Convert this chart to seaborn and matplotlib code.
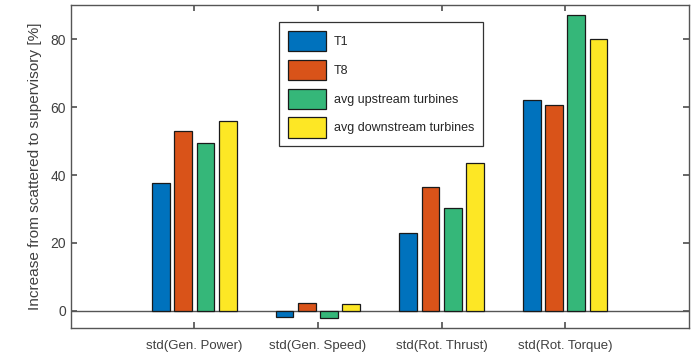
import matplotlib
matplotlib.use("Agg")
import matplotlib.pyplot as plt
import seaborn as sns
import pandas as pd

categories = ["std(Gen. Power)", "std(Gen. Speed)", "std(Rot. Thrust)", "std(Rot. Torque)"]
series = ["T1", "T8", "avg upstream turbines", "avg downstream turbines"]
t1 = [37.5, -1.95, 22.8, 62.1]
t8 = [52.9, 2.2, 36.6, 60.5]
avg_up = [49.5, -2.15, 30.2, 87.1]
avg_down = [56.0, 2.0, 43.5, 80.2]
colors = ["#0072BD", "#D95319", "#35B779", "#FDE725"]
yticks = [0, 20, 40, 60, 80]

rows = []
for name, vals in zip(series, [t1, t8, avg_up, avg_down]):
    for c, v in zip(categories, vals):
        rows.append({"cat": c, "series": name, "value": v})
df = pd.DataFrame(rows)

sns.set_theme(style="ticks")
plt.rcParams["font.family"] = ["Liberation Sans", "DejaVu Sans"]

fig = plt.figure(figsize=(7, 3.56), dpi=100)
ax = fig.add_axes([0.101, 0.0795, 0.883, 0.9055])

sns.barplot(data=df, x="cat", y="value", hue="series", order=categories,
            hue_order=series, palette=colors, width=0.72, gap=0.2,
            edgecolor="#1a1a1a", linewidth=0.9, ax=ax, errorbar=None, saturation=1)

ax.axhline(0, color="#555555", linewidth=1.0, zorder=0.5)
ax.set_xlim(-1, 4)
ax.set_ylim(-5, 90)
ax.set_yticks(yticks)
ax.set_xlabel("")
ax.set_ylabel("Increase from scattered to supervisory [%]", fontsize=11.1, color="#404040",
              labelpad=6)
gray = "#555555"
for s in ax.spines.values():
    s.set_color(gray)
    s.set_linewidth(1.0)
    s.set_visible(True)
ax.tick_params(direction="in", top=True, right=True, color=gray, labelcolor="#404040",
               labelsize=10, length=4)
ax.tick_params(axis="x", pad=9, labelsize=9.5)

leg = ax.legend(loc="upper left", bbox_to_anchor=(0.337, 0.948), fontsize=9,
                handlelength=3.1, handleheight=2.1, labelspacing=0.7,
                handletextpad=0.58, borderpad=0.7, borderaxespad=0,
                fancybox=False, framealpha=1, edgecolor="#333333")
leg.get_frame().set_linewidth(0.9)
for t in leg.get_texts():
    t.set_color("#262626")

fig.savefig("out.png", dpi=100)
